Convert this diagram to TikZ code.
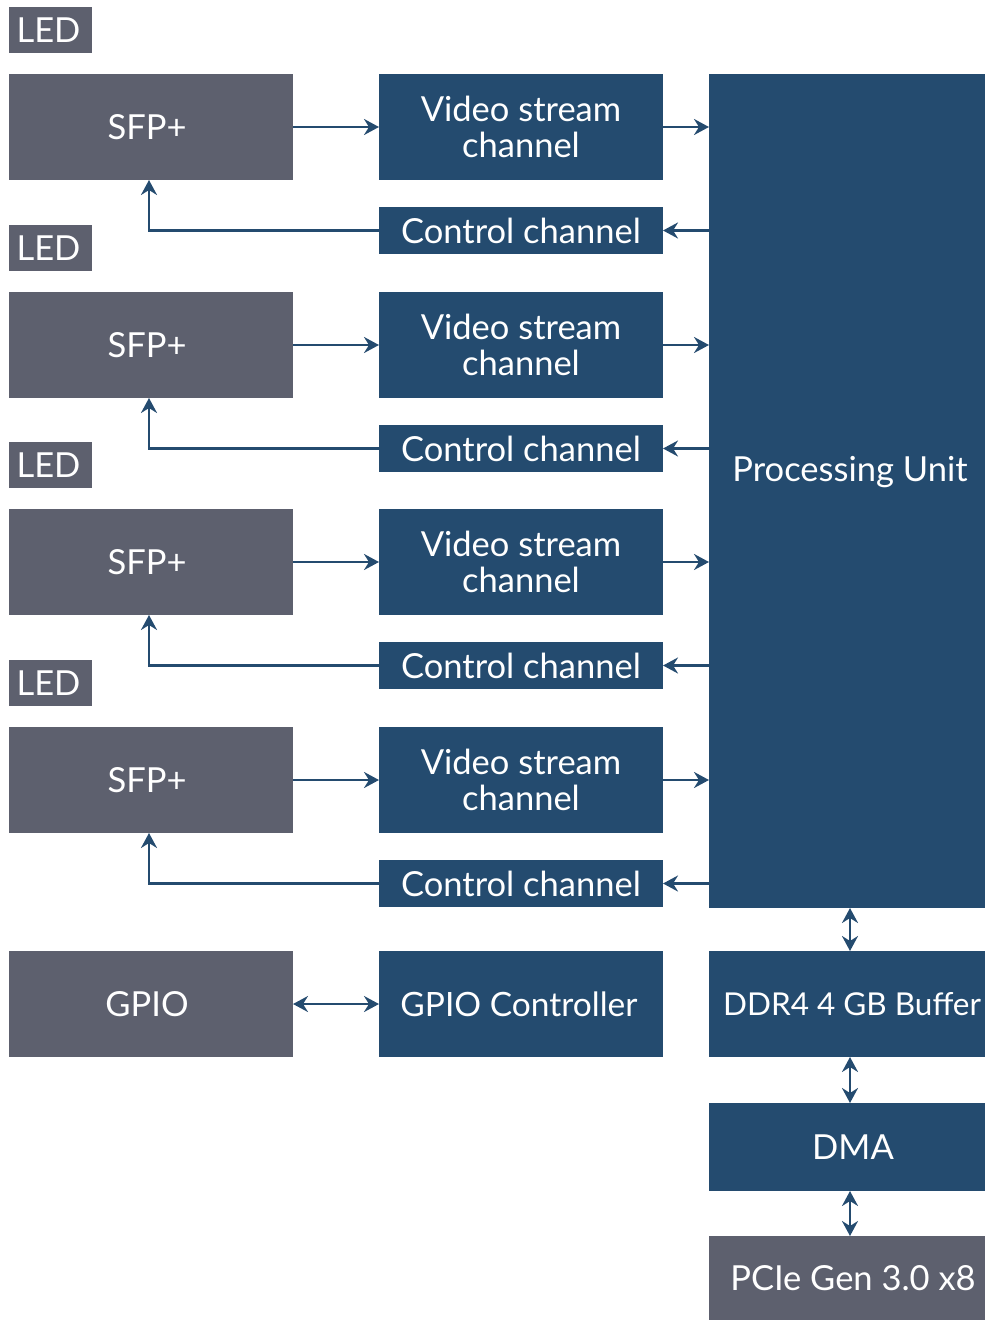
\documentclass[tikz,border=0pt]{standalone}
\usepackage{fontspec}
\setmainfont{Lato}
\usetikzlibrary{arrows.meta}
\definecolor{gboxc}{HTML}{5D606E}
\definecolor{bboxc}{HTML}{244B6F}
\tikzset{
  box/.style={inner sep=0pt, outer sep=0pt, text=white, font=\fontsize{34.5}{36}\selectfont, align=center},
  greybox/.style={box, fill=gboxc},
  bluebox/.style={box, fill=bboxc},
  tip/.tip={Stealth[length=15pt,width=16pt,inset=5pt]},
  conn/.style={draw=bboxc, line width=2.6pt, -tip},
  biconn/.style={draw=bboxc, line width=2.6pt, tip-tip}
}
\begin{document}
\begin{tikzpicture}[x=1pt,y=-1pt]
\useasboundingbox (0,0) rectangle (985,1320);
\foreach \i/\d in {1/0,2/218,3/435,4/653} {
  \node[greybox, minimum width=83pt, minimum height=46pt] (led\i) at (50.5,30+\d) {LED\hspace*{4pt}};
  \node[greybox, minimum width=284pt, minimum height=106pt] (sfp\i) at (151,127+\d) {SFP+\hspace*{8pt}};
  \node[bluebox, minimum width=284pt, minimum height=106pt] (vid\i) at (521,127+\d) {Video stream\\channel};
  \node[bluebox, minimum width=284pt, minimum height=47pt] (ctl\i) at (521,230.5+\d) {Control channel};
}
\node[bluebox, minimum width=276pt, minimum height=834pt,
  label={[box, xshift=3pt, yshift=19pt]center:Processing Unit}] (pu) at (847,491) {};
\node[greybox, minimum width=284pt, minimum height=106pt] (gpio) at (151,1004) {GPIO\hspace*{8pt}};
\node[bluebox, minimum width=284pt, minimum height=106pt, font=\fontsize{33.5}{36}\selectfont] (gpioc) at (521,1004) {GPIO Controller\hspace*{4pt}};
\node[bluebox, minimum width=276pt, minimum height=106pt, font=\fontsize{31.5}{36}\selectfont] (ddr) at (847,1004) {\hspace*{10pt}DDR4 4 GB Buffer};
\node[bluebox, minimum width=276pt, minimum height=88pt] (dma) at (847,1147) {\hspace*{12pt}DMA};
\node[greybox, minimum width=276pt, minimum height=84pt] (pcie) at (847,1278) {\hspace*{12pt}PCIe Gen 3.0 x8};
\foreach \i in {1,2,3,4} {
  \draw[conn] (sfp\i) -- (vid\i);
  \draw[conn] (vid\i.east) -- (vid\i.east -| pu.west);
  \draw[conn] (ctl\i.east -| pu.west) -- (ctl\i.east);
  \draw[conn] (ctl\i.west) -| ([xshift=-2pt]sfp\i.south);
}
\draw[biconn] (gpio) -- (gpioc);
\draw[biconn] ([xshift=3pt]pu.south) -- ([xshift=3pt]ddr.north);
\draw[biconn] ([xshift=3pt]ddr.south) -- ([xshift=3pt]dma.north);
\draw[biconn] ([xshift=3pt]dma.south) -- ([xshift=3pt]pcie.north);
\end{tikzpicture}
\end{document}
